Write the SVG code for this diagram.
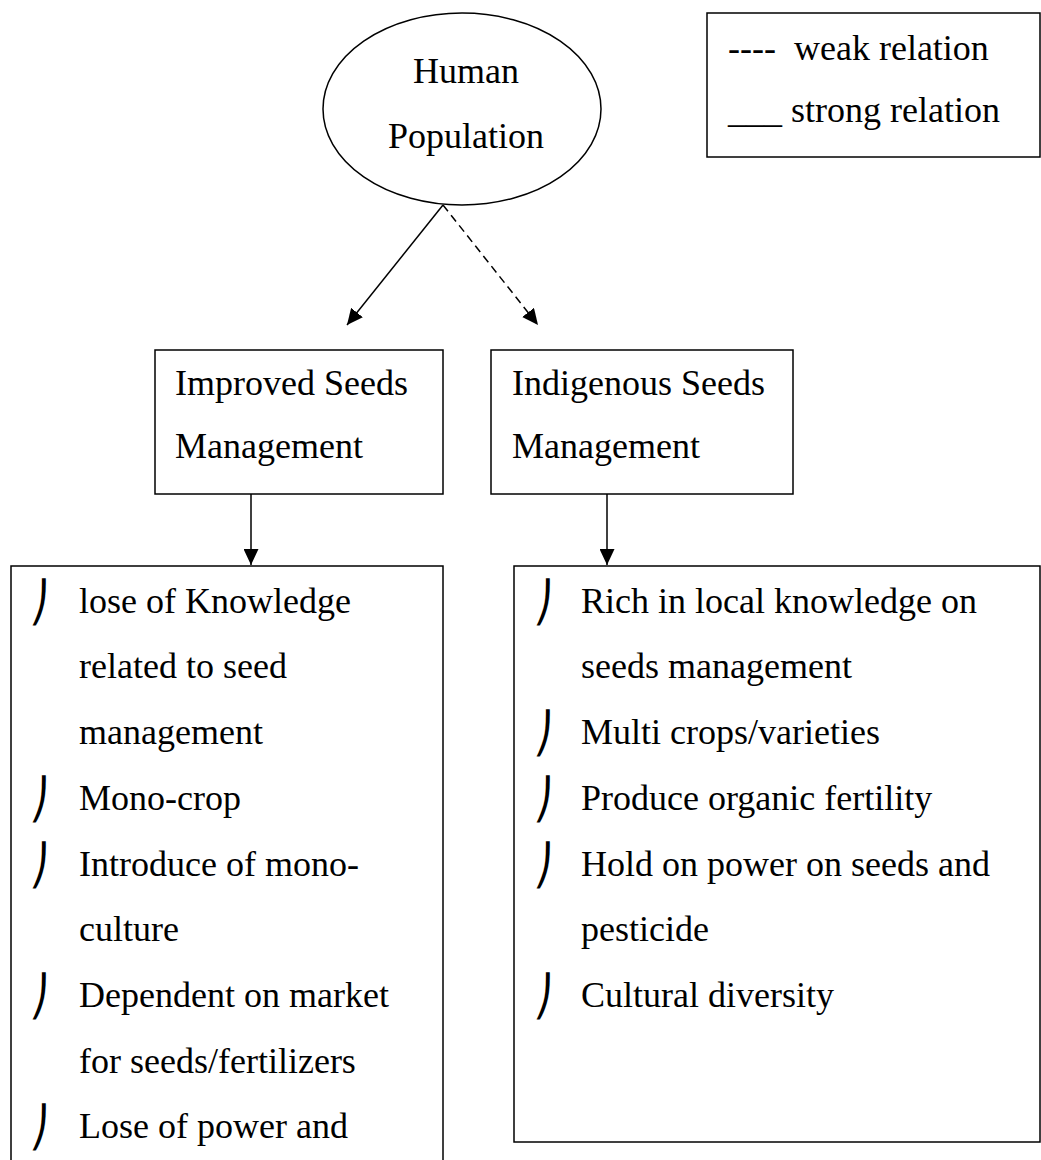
<svg xmlns="http://www.w3.org/2000/svg" width="1041" height="1160" viewBox="0 0 1041 1160">
<style>
.box{fill:#fff;stroke:#000;stroke-width:1.5}
.t{font-family:"Liberation Serif","Times New Roman",serif;font-size:36px;fill:#000}
.b{font-family:"DejaVu Sans",sans-serif;font-size:40px;fill:#000}
.c{stroke:#000;stroke-width:1.5;fill:none}
</style>
<defs>
<marker id="ah" viewBox="0 0 16 15" refX="16" refY="7.5" markerWidth="16" markerHeight="15" markerUnits="userSpaceOnUse" orient="auto">
<path d="M0,0 L16,7.5 L0,15 z" fill="#000"/>
</marker>
</defs>
<rect width="1041" height="1160" fill="#fff"/>
<g id="human-population">
<ellipse class="box" cx="462" cy="109" rx="139" ry="96"/>
<text class="t" x="466" y="83" text-anchor="middle">Human</text>
<text class="t" x="466" y="148" text-anchor="middle">Population</text>
</g>
<g id="legend">
<rect class="box" x="707" y="13" width="333" height="144"/>
<text class="t" x="728" y="60" xml:space="preserve">----  weak relation</text>
<text class="t" x="728" y="122">___ strong relation</text>
</g>
<g id="improved">
<rect class="box" x="155" y="350" width="288" height="144"/>
<text class="t" x="175" y="395">Improved Seeds</text>
<text class="t" x="175" y="458">Management</text>
</g>
<g id="indigenous">
<rect class="box" x="491" y="350" width="302" height="144"/>
<text class="t" x="512" y="395">Indigenous Seeds</text>
<text class="t" x="512" y="458">Management</text>
</g>
<g id="improved-list">
<rect class="box" x="11" y="566" width="432" height="620"/>
<text class="b" x="29" y="616">⎠</text>
<text class="t" x="79" y="613">lose of Knowledge</text>
<text class="t" x="79" y="678">related to seed</text>
<text class="t" x="79" y="744">management</text>
<text class="b" x="29" y="813">⎠</text>
<text class="t" x="79" y="810">Mono-crop</text>
<text class="b" x="29" y="879">⎠</text>
<text class="t" x="79" y="876">Introduce of mono-</text>
<text class="t" x="79" y="941">culture</text>
<text class="b" x="29" y="1010">⎠</text>
<text class="t" x="79" y="1007">Dependent on market</text>
<text class="t" x="79" y="1073">for seeds/fertilizers</text>
<text class="b" x="29" y="1141">⎠</text>
<text class="t" x="79" y="1138">Lose of power and</text>
</g>
<g id="indigenous-list">
<rect class="box" x="514" y="566" width="526" height="576"/>
<text class="b" x="533" y="616">⎠</text>
<text class="t" x="581" y="613">Rich in local knowledge on</text>
<text class="t" x="581" y="678">seeds management</text>
<text class="b" x="533" y="747">⎠</text>
<text class="t" x="581" y="744">Multi crops/varieties</text>
<text class="b" x="533" y="813">⎠</text>
<text class="t" x="581" y="810">Produce organic fertility</text>
<text class="b" x="533" y="879">⎠</text>
<text class="t" x="581" y="876">Hold on power on seeds and</text>
<text class="t" x="581" y="941">pesticide</text>
<text class="b" x="533" y="1010">⎠</text>
<text class="t" x="581" y="1007">Cultural diversity</text>
</g>
<g id="connectors">
<line class="c" x1="443" y1="205" x2="347" y2="325" marker-end="url(#ah)"/>
<line class="c" x1="443" y1="205" x2="538" y2="325" stroke-dasharray="8,5" marker-end="url(#ah)"/>
<line class="c" x1="251" y1="494" x2="251" y2="565" marker-end="url(#ah)"/>
<line class="c" x1="607" y1="494" x2="607" y2="565" marker-end="url(#ah)"/>
</g>
</svg>
